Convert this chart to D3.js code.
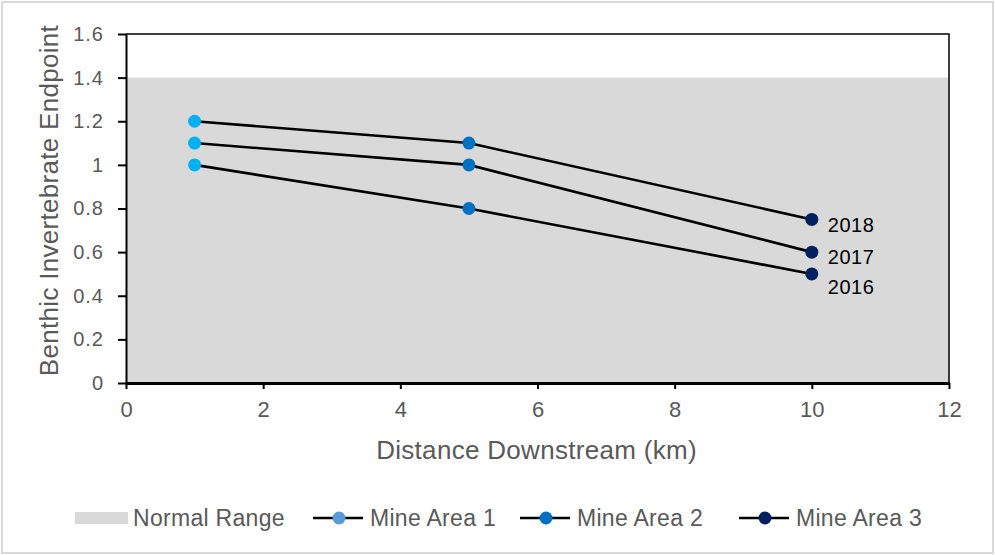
<!DOCTYPE html>
<html>
<head>
<meta charset="utf-8">
<script src="https://cdn.jsdelivr.net/npm/d3@7"></script>
<style>
  body { margin: 0; background: #fff; }
  text { font-family: "Liberation Sans", Arial, sans-serif; }
</style>
</head>
<body>
<script>
// data
var years = ["2016", "2017", "2018"];
var distances = [1, 5, 10];
var endpoint2016 = [1.0, 0.8, 0.5];
var endpoint2017 = [1.1, 1.0, 0.6];
var endpoint2018 = [1.2, 1.1, 0.75];
var normalRange = [0, 1.4];
var xTicks = [0, 2, 4, 6, 8, 10, 12];
var yTicks = [0, 0.2, 0.4, 0.6, 0.8, 1, 1.2, 1.4, 1.6];
var areaNames = ["Mine Area 1", "Mine Area 2", "Mine Area 3"];

var pointColors = ["#00B0F0", "#0070C0", "#002060"];
var legendColors = ["#5B9BD5", "#0070C0", "#002060"];

var series = [endpoint2016, endpoint2017, endpoint2018].map(function(vals, i) {
  return {
    year: years[i],
    points: vals.map(function(v, j) { return {x: distances[j], y: v, area: j}; })
  };
});

var W = 995, H = 555;
var margin = {top: 34, right: 46, bottom: 172, left: 126},
    width = W - margin.left - margin.right,
    height = H - margin.top - margin.bottom;

var svg = d3.select("body").append("svg")
    .attr("width", W)
    .attr("height", H);

// outer border
svg.append("rect")
    .attr("x", 2).attr("y", 2)
    .attr("width", W - 4).attr("height", H - 4)
    .attr("fill", "#fff")
    .attr("stroke", "#D9D9D9")
    .attr("stroke-width", 2);

var g = svg.append("g")
    .attr("transform", "translate(" + margin.left + "," + margin.top + ")");

var x = d3.scaleLinear().domain([0, 12]).range([0, width]);
var y = d3.scaleLinear().domain([0, 1.6]).range([height, 0]);

// normal range band
g.append("rect")
    .attr("x", x(0))
    .attr("y", y(normalRange[1]))
    .attr("width", x(12) - x(0))
    .attr("height", y(normalRange[0]) - y(normalRange[1]))
    .attr("fill", "#D9D9D9");

// top and right frame
g.append("path")
    .attr("d", "M0," + y(1.6) + "H" + x(12) + "V" + y(0))
    .attr("fill", "none")
    .attr("stroke", "#000")
    .attr("stroke-width", 1.5);

var xAxis = d3.axisBottom(x).tickValues(xTicks).tickSize(6).tickSizeOuter(0).tickPadding(12)
    .tickFormat(d3.format("d"));
var yAxis = d3.axisLeft(y).tickValues(yTicks).tickSize(8).tickSizeOuter(0).tickPadding(14)
    .tickFormat(function(d) { return d3.format("~g")(d); });

var gx = g.append("g")
    .attr("transform", "translate(0," + height + ")")
    .call(xAxis);
gx.select(".domain").attr("stroke", "#000").attr("stroke-width", 3);
gx.selectAll(".tick line").attr("stroke", "#000").attr("stroke-width", 2);
gx.selectAll(".tick text").attr("fill", "#595959")
    .style("font-size", "22px");

var gy = g.append("g").call(yAxis);
gy.select(".domain").attr("stroke", "#000").attr("stroke-width", 2);
gy.selectAll(".tick line").attr("stroke", "#000").attr("stroke-width", 2);
gy.selectAll(".tick text").attr("fill", "#595959")
    .style("font-size", "20px").style("letter-spacing", "1px");

// axis titles
g.append("text")
    .attr("x", width / 2 - 1)
    .attr("y", height + 76)
    .attr("text-anchor", "middle")
    .attr("fill", "#595959")
    .style("font-size", "26px")
    .style("letter-spacing", "0.3px")
    .text("Distance Downstream (km)");

g.append("text")
    .attr("transform", "rotate(-90)")
    .attr("x", -height / 2 + 8)
    .attr("y", -68)
    .attr("text-anchor", "middle")
    .attr("fill", "#595959")
    .style("font-size", "26px")
    .style("letter-spacing", "0.3px")
    .text("Benthic Invertebrate Endpoint");

// lines
var line = d3.line()
    .x(function(d) { return x(d.x); })
    .y(function(d) { return y(d.y); });

g.selectAll(".yearline")
    .data(series)
  .enter().append("path")
    .attr("class", "yearline")
    .attr("d", function(d) { return line(d.points); })
    .attr("fill", "none")
    .attr("stroke", "#000")
    .attr("stroke-width", 2.6);

// points
g.selectAll(".yeargroup")
    .data(series)
  .enter().append("g")
    .attr("class", "yeargroup")
  .selectAll("circle")
    .data(function(d) { return d.points; })
  .enter().append("circle")
    .attr("cx", function(d) { return x(d.x); })
    .attr("cy", function(d) { return y(d.y); })
    .attr("r", 6.5)
    .attr("fill", function(d) { return pointColors[d.area]; });

// year labels at last point
var labelDy = {"2016": 13, "2017": 5, "2018": 6};
g.selectAll(".yearlabel")
    .data(series)
  .enter().append("text")
    .attr("class", "yearlabel")
    .attr("x", function(d) { return x(d.points[d.points.length - 1].x) + 16; })
    .attr("y", function(d) { return y(d.points[d.points.length - 1].y) + labelDy[d.year]; })
    .attr("dy", "0.35em")
    .attr("fill", "#000")
    .style("font-size", "20px")
    .style("letter-spacing", "0.5px")
    .text(function(d) { return d.year; });

// legend
var legY = 518;
var leg = svg.append("g");
leg.append("rect")
    .attr("x", 75).attr("y", legY - 6)
    .attr("width", 53).attr("height", 12)
    .attr("fill", "#D9D9D9");
leg.append("text")
    .attr("x", 133).attr("y", legY)
    .attr("dy", "0.35em")
    .attr("fill", "#595959")
    .style("font-size", "23px")
    .style("letter-spacing", "0.3px")
    .text("Normal Range");

var legX = [313, 520, 739];
areaNames.forEach(function(name, i) {
  var lx = legX[i];
  leg.append("line")
      .attr("x1", lx).attr("x2", lx + 50)
      .attr("y1", legY).attr("y2", legY)
      .attr("stroke", "#000").attr("stroke-width", 2.6);
  leg.append("circle")
      .attr("cx", lx + 26).attr("cy", legY)
      .attr("r", 6.5)
      .attr("fill", legendColors[i]);
  leg.append("text")
      .attr("x", lx + 57).attr("y", legY)
      .attr("dy", "0.35em")
      .attr("fill", "#595959")
      .style("font-size", "23px")
      .style("letter-spacing", "0.3px")
      .text(name);
});
</script>
</body>
</html>
